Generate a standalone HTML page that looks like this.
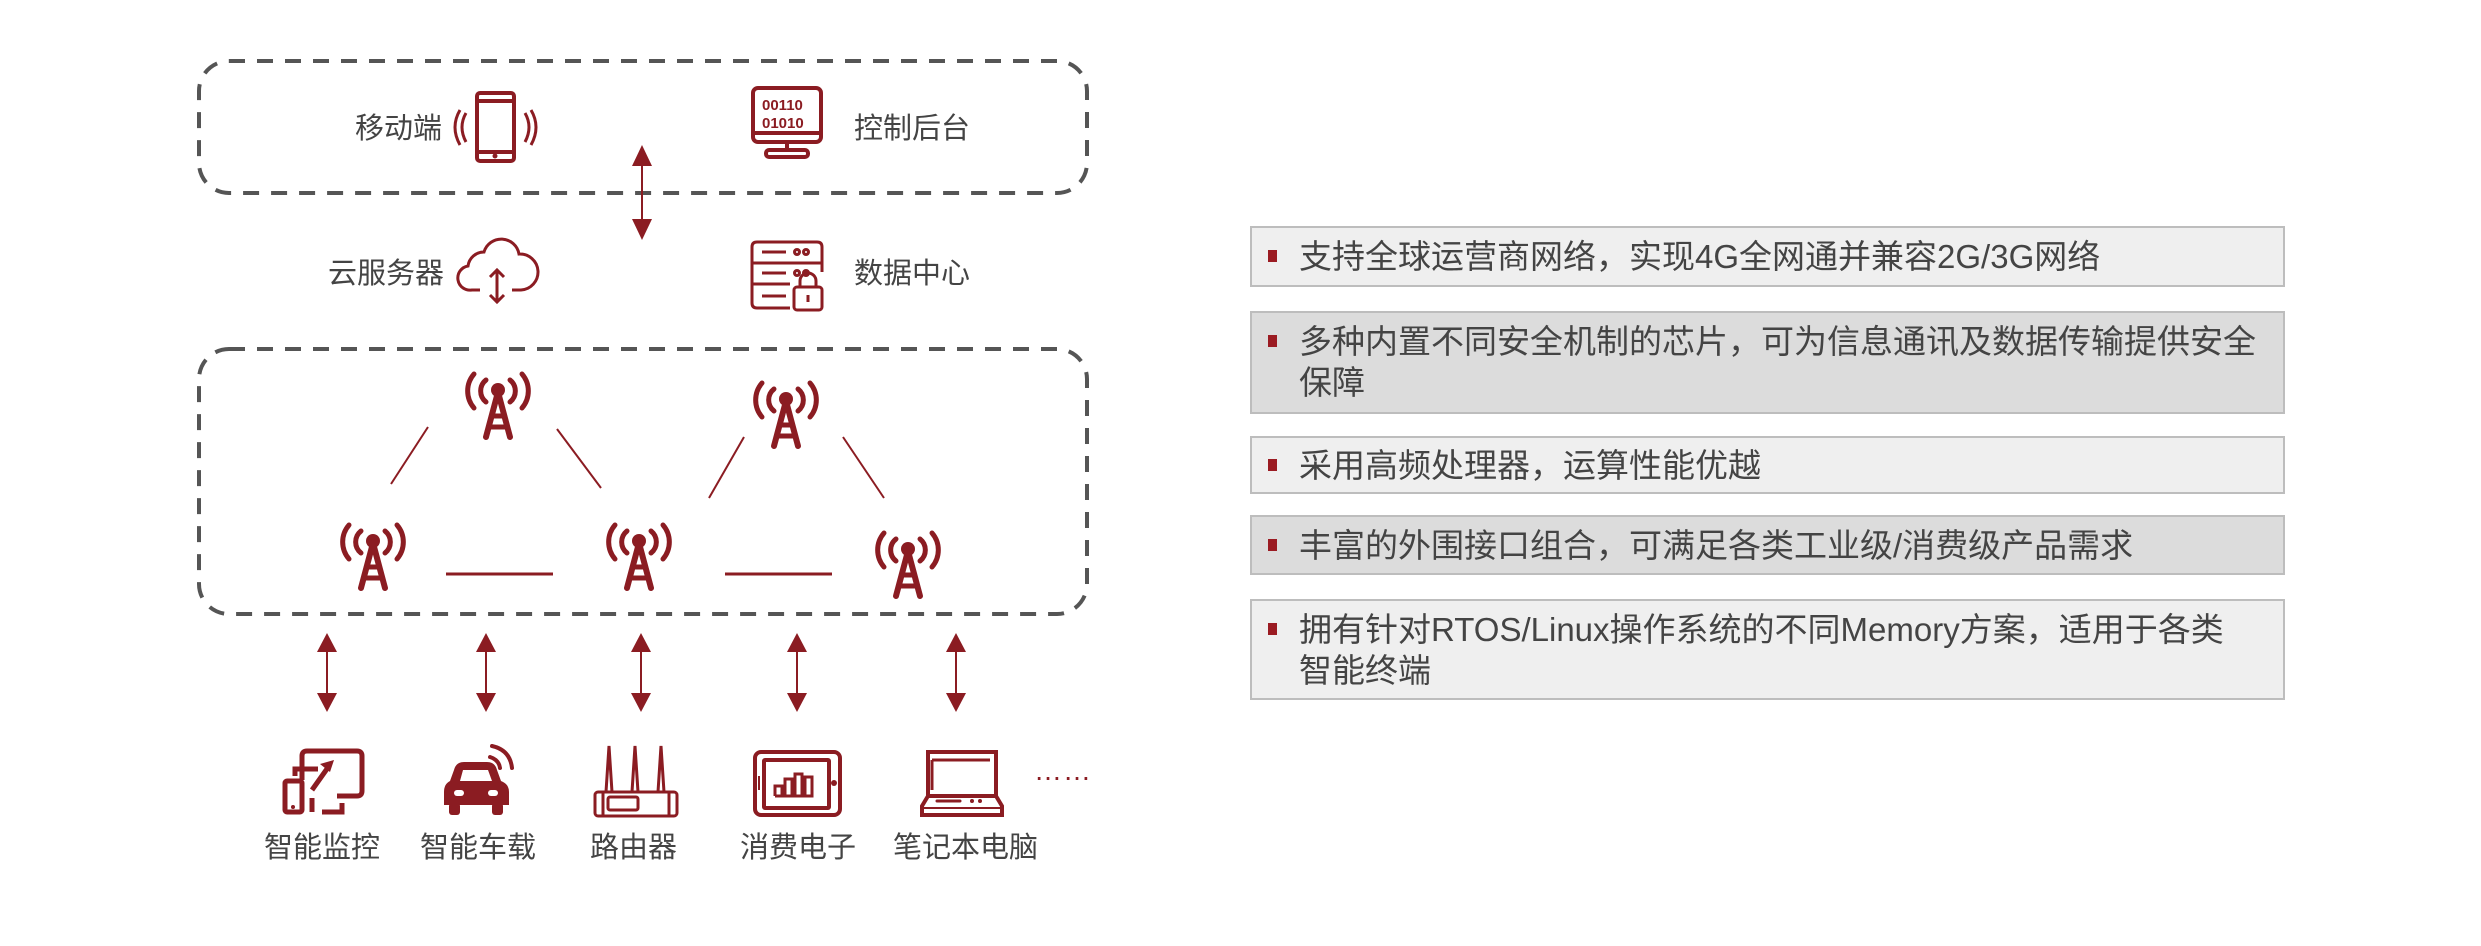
<!DOCTYPE html>
<html><head><meta charset="utf-8">
<style>
html,body{margin:0;padding:0;background:#fff;}
svg{display:block;}
text{font-family:"Liberation Sans","Noto Sans CJK SC",sans-serif;fill:#444;}
</style></head>
<body>
<svg width="2481" height="946" viewBox="0 0 2481 946" xmlns="http://www.w3.org/2000/svg">
<defs>
<g id="tower">
  <circle cx="36" cy="18" r="7" fill="#8b1c22"/>
  <path d="M36 20 L24 65 M36 20 L48 65" stroke="#8b1c22" stroke-width="6" stroke-linecap="round" fill="none"/>
  <path d="M28 44 H44 M25 55 H47" stroke="#8b1c22" stroke-width="5" fill="none"/>
  <path d="M24 8 A14 14 0 0 0 24 30 M48 8 A14 14 0 0 1 48 30" stroke="#8b1c22" stroke-width="5" stroke-linecap="round" fill="none"/>
  <path d="M12 2 A26 26 0 0 0 12 36 M60 2 A26 26 0 0 1 60 36" stroke="#8b1c22" stroke-width="5" stroke-linecap="round" fill="none"/>
</g>
</defs>

<rect x="199" y="61" width="888" height="132" rx="30" fill="none" stroke="#555" stroke-width="4" stroke-dasharray="16 12"/>
<rect x="199" y="349" width="888" height="265" rx="30" fill="none" stroke="#555" stroke-width="4" stroke-dasharray="16 12"/>

<g font-size="29">
<text x="355" y="138">移动端</text>
<text x="854" y="138">控制后台</text>
<text x="328" y="283">云服务器</text>
<text x="854" y="283">数据中心</text>
</g>

<g stroke="#8b1c22" fill="none" stroke-width="4">
  <rect x="477" y="93" width="37" height="68" rx="3"/>
  <line x1="477" y1="101" x2="514" y2="101"/>
  <line x1="477" y1="152" x2="514" y2="152"/>
  <path d="M466 113 Q458 127 466 142" stroke-width="3"/>
  <path d="M460 110 Q450 127 460 145" stroke-width="3"/>
  <path d="M525 113 Q533 127 525 142" stroke-width="3"/>
  <path d="M531 110 Q541 127 531 145" stroke-width="3"/>
</g>
<circle cx="495" cy="156" r="2.5" fill="#8b1c22"/>

<g stroke="#8b1c22" fill="none" stroke-width="4">
  <rect x="753" y="88" width="68" height="54" rx="5"/>
  <line x1="753" y1="133" x2="821" y2="133"/>
  <line x1="787" y1="142" x2="787" y2="150"/>
  <rect x="766" y="150" width="42" height="7" rx="3"/>
</g>
<text x="762" y="110" font-size="15" font-weight="bold" style="fill:#8b1c22">00110</text>
<text x="762" y="128" font-size="15" font-weight="bold" style="fill:#8b1c22">01010</text>

<g stroke="#8b1c22" fill="none" stroke-width="3">
  <path d="M480 290 H472 A12 12 0 0 1 468 266 A16 16 0 0 1 484 252 A18 18 0 0 1 519 254 A14 14 0 0 1 521 290 H512"/>
  <path d="M497 270 V302 M490 277 L497 270 L504 277 M490 295 L497 302 L504 295"/>
</g>

<g stroke="#8b1c22" fill="none" stroke-width="3">
  <path d="M790 308 H757 Q752 308 752 303 V247 Q752 242 757 242 H817 Q822 242 822 247 V272"/>
  <line x1="752" y1="263" x2="822" y2="263"/>
  <line x1="752" y1="284" x2="790" y2="284"/>
  <line x1="762" y1="252" x2="786" y2="252"/>
  <line x1="762" y1="273" x2="786" y2="273"/>
  <line x1="762" y1="296" x2="786" y2="296"/>
  <circle cx="797" cy="252" r="2.5"/><circle cx="806" cy="252" r="2.5"/>
  <circle cx="797" cy="273" r="2.5"/><circle cx="806" cy="273" r="2.5"/>
  <rect x="794" y="287" width="28" height="23" rx="3"/>
  <path d="M800 287 V281 A8 8 0 0 1 816 281 V287"/>
</g>
<line x1="808" y1="295" x2="808" y2="302" stroke="#8b1c22" stroke-width="3"/>

<g fill="#8b1c22">
  <line x1="642" y1="155" x2="642" y2="230" stroke="#8b1c22" stroke-width="2"/>
  <path d="M642 145 L632 166 L652 166 Z"/>
  <path d="M642 240 L632 219 L652 219 Z"/>
</g>

<use href="#tower" x="462" y="372"/>
<use href="#tower" x="750" y="381"/>
<use href="#tower" x="337" y="523"/>
<use href="#tower" x="603" y="523"/>
<use href="#tower" x="872" y="531"/>

<g stroke="#8b1c22" stroke-width="2">
  <line x1="428" y1="427" x2="391" y2="484"/>
  <line x1="557" y1="429" x2="601" y2="488"/>
  <line x1="744" y1="437" x2="709" y2="498"/>
  <line x1="843" y1="437" x2="884" y2="498"/>
  <line x1="446" y1="574" x2="553" y2="574" stroke-width="3"/>
  <line x1="725" y1="574" x2="832" y2="574" stroke-width="3"/>
</g>

<g fill="#8b1c22" stroke="#8b1c22">
  <g id="darr">
    <line x1="327" y1="645" x2="327" y2="700" stroke-width="2"/>
    <path d="M327 633 L317 652 L337 652 Z" stroke="none"/>
    <path d="M327 712 L317 693 L337 693 Z" stroke="none"/>
  </g>
  <use href="#darr" x="159"/>
  <use href="#darr" x="314"/>
  <use href="#darr" x="470"/>
  <use href="#darr" x="629"/>
</g>

<g stroke="#8b1c22" fill="none" stroke-width="5">
  <path d="M302 780 V756 Q302 751 307 751 H357 Q362 751 362 756 V791 Q362 796 357 796 H337"/>
  <rect x="285" y="781" width="17" height="31" rx="2"/>
  <path d="M295 776 V769 H318"/>
  <path d="M312 790 L329 766"/>
  <path d="M312 812 V798 M322 812 H342 V803"/>
</g>
<path d="M334 760 L320 764 L330 772 Z" fill="#8b1c22"/>
<circle cx="293" cy="807" r="2" fill="#8b1c22"/>
<g fill="#8b1c22">
  <path d="M454 770 Q456 762 464 762 H487 Q495 762 497 770 L501 781 Q509 784 509 792 V805 H444 V792 Q444 784 450 781 Z"/>
  <rect x="449" y="803" width="11" height="12" rx="3"/>
  <rect x="492" y="803" width="11" height="12" rx="3"/>
</g>
<path d="M460 781 L463 770 H488 L492 781 Z" fill="#fff"/>
<rect x="454" y="790" width="10" height="6" rx="3" fill="#fff"/>
<rect x="488" y="790" width="10" height="6" rx="3" fill="#fff"/>
<g stroke="#8b1c22" fill="none" stroke-width="4" stroke-linecap="round">
  <path d="M490 757 Q499 760 500 768"/>
  <path d="M492 746 Q510 750 512 768"/>
</g>
<g stroke="#8b1c22" fill="none" stroke-width="3">
  <rect x="595" y="792" width="82" height="24" rx="3"/>
  <line x1="603" y1="792" x2="603" y2="816"/>
  <line x1="669" y1="792" x2="669" y2="816"/>
  <rect x="608" y="797" width="30" height="13" rx="2"/>
  <path d="M606 792 L609 746 L612 792 M632 792 L635 746 L638 792 M658 792 L661 746 L664 792"/>
</g>
<g stroke="#8b1c22" fill="none" stroke-width="4">
  <rect x="755" y="752" width="85" height="63" rx="6"/>
  <rect x="764" y="760" width="65" height="48" rx="1"/>
  <path d="M775 796 V786 H782 V796 M785 796 V779 H792 V796 M795 796 V774 H802 V796 M775 796 H812 V777 H805 V796" stroke-width="3"/>
</g>
<circle cx="834" cy="783" r="3" fill="#8b1c22"/>
<line x1="759" y1="776" x2="759" y2="790" stroke="#8b1c22" stroke-width="2"/>
<g stroke="#8b1c22" fill="none" stroke-width="4">
  <path d="M928 796 V752 H996 V796"/>
  <path d="M932 760 V790 M932 760 H990" stroke-width="3"/>
  <path d="M928 796 L922 806 V815 H1002 V806 L996 796 Z"/>
  <line x1="922" y1="808" x2="1002" y2="808" stroke-width="2"/>
</g>
<line x1="937" y1="801" x2="960" y2="801" stroke="#8b1c22" stroke-width="3" stroke-linecap="round"/>
<circle cx="972" cy="801" r="2" fill="#8b1c22"/><circle cx="980" cy="801" r="2" fill="#8b1c22"/>

<text x="1034" y="780" font-size="28" style="fill:#8b1c22" letter-spacing="1">……</text>

<g font-size="29">
<text x="264" y="857">智能监控</text>
<text x="420" y="857">智能车载</text>
<text x="590" y="857">路由器</text>
<text x="740" y="857">消费电子</text>
<text x="893" y="857">笔记本电脑</text>
</g>

<g stroke="#bdbdbd" stroke-width="2">
  <rect x="1251" y="227" width="1033" height="59" fill="#efefef"/>
  <rect x="1251" y="312" width="1033" height="101" fill="#dcdcdc"/>
  <rect x="1251" y="437" width="1033" height="56" fill="#efefef"/>
  <rect x="1251" y="516" width="1033" height="58" fill="#dcdcdc"/>
  <rect x="1251" y="600" width="1033" height="99" fill="#efefef"/>
</g>
<g fill="#9b1b22">
  <rect x="1268" y="250" width="9" height="12"/>
  <rect x="1268" y="335" width="9" height="12"/>
  <rect x="1268" y="459" width="9" height="12"/>
  <rect x="1268" y="539" width="9" height="12"/>
  <rect x="1268" y="623" width="9" height="12"/>
</g>
<g font-size="33">
  <text x="1299" y="268">支持全球运营商网络，实现4G全网通并兼容2G/3G网络</text>
  <text x="1299" y="353">多种内置不同安全机制的芯片，可为信息通讯及数据传输提供安全</text>
  <text x="1299" y="394">保障</text>
  <text x="1299" y="477">采用高频处理器，运算性能优越</text>
  <text x="1299" y="557">丰富的外围接口组合，可满足各类工业级/消费级产品需求</text>
  <text x="1299" y="641">拥有针对RTOS/Linux操作系统的不同Memory方案，适用于各类</text>
  <text x="1299" y="682">智能终端</text>
</g>
</svg>
</body></html>
